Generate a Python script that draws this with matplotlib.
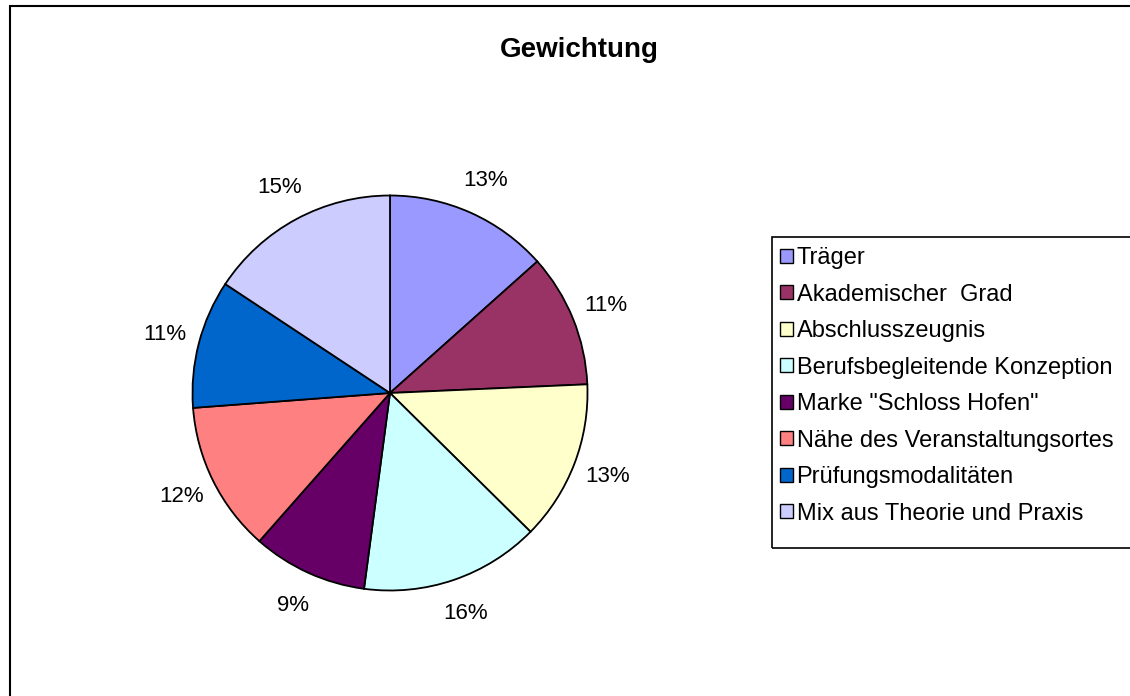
import matplotlib
matplotlib.use("Agg")
import matplotlib.pyplot as plt
from matplotlib.patches import Rectangle, Patch

plt.rcParams['font.family'] = ['Liberation Sans', 'DejaVu Sans']

categories = ["Träger", "Akademischer  Grad", "Abschlusszeugnis",
              "Berufsbegleitende Konzeption", 'Marke "Schloss Hofen"',
              "Nähe des Veranstaltungsortes", "Prüfungsmodalitäten",
              "Mix aus Theorie und Praxis"]
values = [13.4, 10.9, 13.1, 14.7, 9.4, 12.3, 10.5, 15.7]
pct_labels = ["13%", "11%", "13%", "16%", "9%", "12%", "11%", "15%"]
colors = ["#9999FF", "#993366", "#FFFFCC", "#CCFFFF", "#660066",
          "#FF8080", "#0066CC", "#CCCCFF"]

W, H = 1130, 696
fig = plt.figure(figsize=(W / 100, H / 100), dpi=100)

# outer chart frame
fig.patches.append(Rectangle((10 / W, -0.05), 1.1, 1 - 6 / H + 0.05,
                             transform=fig.transFigure, fill=False,
                             edgecolor="black", linewidth=1.5))

cx, cy, R = 390, 393, 197.5
ax = fig.add_axes([(cx - R) / W, (H - cy - R) / H, 2 * R / W, 2 * R / H])
wedges, texts = ax.pie(values, colors=colors, startangle=90, counterclock=False,
                       labels=pct_labels, labeldistance=1.18,
                       wedgeprops=dict(edgecolor="black", linewidth=1.3),
                       textprops=dict(fontsize=16))
for t in texts:
    t.set_horizontalalignment("center")
    t.set_verticalalignment("center")
ax.set_xlim(-1, 1)
ax.set_ylim(-1, 1)
ax.set_aspect("equal")
ax.axis("off")

fig.text(579 / W, 1 - 50 / H, "Gewichtung", ha="center", va="center",
         fontsize=20, fontweight="bold")

# legend frame
fig.patches.append(Rectangle((772 / W, 1 - 548 / H), 0.5, (548 - 237) / H,
                             transform=fig.transFigure, fill=False,
                             edgecolor="black", linewidth=1.2))
handles = [Patch(facecolor=c, edgecolor="black", linewidth=1.0) for c in colors]
fig.legend(handles, categories, loc="upper left",
           bbox_to_anchor=(780 / W, 1 - 247 / H), frameon=False,
           fontsize=17, handlelength=0.55, handleheight=0.55,
           handletextpad=0.15, labelspacing=0.615, borderpad=0, borderaxespad=0)

fig.savefig("out.png", dpi=100)
